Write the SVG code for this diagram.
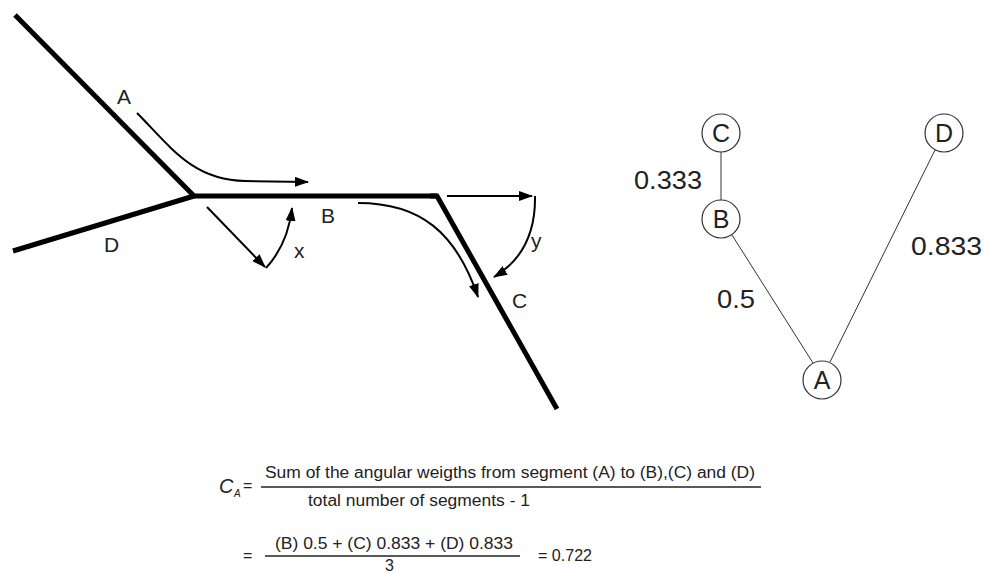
<svg xmlns="http://www.w3.org/2000/svg" width="986" height="574" viewBox="0 0 986 574">
  <style>
    .seg { fill: none; stroke: #000; stroke-width: 5; stroke-linecap: butt; stroke-linejoin: miter; }
    .arr { fill: none; stroke: #000; stroke-width: 2; }
    .edge { fill: none; stroke: #333; stroke-width: 1; }
    .node { fill: #fff; stroke: #333; stroke-width: 1.2; }
    .lbl { font-family: "Liberation Sans", Arial, sans-serif; font-size: 21px; fill: #222; }
    .nlbl { font-family: "Liberation Sans", Arial, sans-serif; font-size: 25px; fill: #222; text-anchor: middle; }
    .wt { font-family: "Liberation Sans", Arial, sans-serif; font-size: 26px; fill: #222; }
    .f { font-family: "Liberation Sans", Arial, sans-serif; font-size: 16px; fill: #222; }
    .fl { stroke: #222; stroke-width: 1.5; }
  </style>
  <defs>
    <marker id="ah" markerUnits="userSpaceOnUse" markerWidth="14" markerHeight="10" refX="13" refY="5" orient="auto">
      <path d="M0,0 L14,5 L0,10 z" fill="#000"/>
    </marker>
  </defs>
  <rect width="986" height="574" fill="#fff"/>

  <!-- street segments -->
  <g id="segA">
    <line class="seg" x1="15" y1="15" x2="194" y2="196"/>
    <text class="lbl" x="117" y="104">A</text>
  </g>
  <g id="segD">
    <line class="seg" x1="13" y1="251" x2="194" y2="196"/>
    <text class="lbl" x="104" y="252">D</text>
  </g>
  <g id="segB">
    <line class="seg" x1="192" y1="196" x2="437" y2="196"/>
    <text class="lbl" x="321" y="223">B</text>
  </g>
  <g id="segC">
    <polyline class="seg" points="430,196 437,196 557,409"/>
    <text class="lbl" x="512" y="308">C</text>
  </g>
  <g id="angleX">
    <text class="lbl" x="294" y="258">x</text>
  </g>
  <g id="angleY">
    <text class="lbl" x="531" y="248">y</text>
  </g>

  <!-- right graph nodes -->
  <g id="nodeC">
    <circle class="node" cx="721" cy="133" r="19"/>
    <text class="nlbl" x="721" y="142">C</text>
  </g>
  <g id="nodeD">
    <circle class="node" cx="944" cy="133" r="19"/>
    <text class="nlbl" x="944" y="142">D</text>
  </g>
  <g id="nodeB">
    <circle class="node" cx="721" cy="219" r="19"/>
    <text class="nlbl" x="721" y="228">B</text>
  </g>
  <g id="nodeA">
    <circle class="node" cx="822" cy="380" r="19"/>
    <text class="nlbl" x="822" y="389">A</text>
  </g>

  <g id="connectors">
    <!-- left figure arrows -->
    <path class="arr" d="M137,113 C170,146 192,180 245,181 L308,182" marker-end="url(#ah)"/>
    <path class="arr" d="M207,207 L265,267" marker-end="url(#ah)"/>
    <path class="arr" d="M266,268 Q288,244 292,208" marker-end="url(#ah)"/>
    <path class="arr" d="M358,203 C420,203 456,232 478,297" marker-end="url(#ah)"/>
    <path class="arr" d="M447,196 L532,196" marker-end="url(#ah)"/>
    <path class="arr" d="M535,196 Q536,252 494,277" marker-end="url(#ah)"/>
    <!-- graph edges -->
    <line class="edge" x1="721" y1="152" x2="721" y2="200"/>
    <line class="edge" x1="732" y1="235" x2="813" y2="363"/>
    <line class="edge" x1="935" y1="150" x2="830" y2="362"/>
  </g>

  <g id="weights">
    <text class="wt" x="634" y="189" textLength="68" lengthAdjust="spacingAndGlyphs">0.333</text>
    <text class="wt" x="717" y="308" textLength="38" lengthAdjust="spacingAndGlyphs">0.5</text>
    <text class="wt" x="911" y="255" textLength="71" lengthAdjust="spacingAndGlyphs">0.833</text>
  </g>

  <g id="formula">
    <text class="f" x="219" y="493" style="font-style:italic;font-size:20px">C</text>
    <text class="f" x="234" y="497" style="font-style:italic;font-size:10px">A</text>
    <text class="f" x="243" y="491">=</text>
    <text class="f" x="265" y="478" textLength="490" lengthAdjust="spacingAndGlyphs">Sum of the angular weigths from segment (A) to (B),(C) and (D)</text>
    <line class="fl" x1="261" y1="487" x2="761" y2="487"/>
    <text class="f" x="308" y="506" textLength="222" lengthAdjust="spacingAndGlyphs">total number of segments - 1</text>

    <text class="f" x="243" y="561">=</text>
    <text class="f" x="275" y="549" textLength="238" lengthAdjust="spacingAndGlyphs">(B) 0.5 + (C) 0.833 + (D) 0.833</text>
    <line class="fl" x1="265" y1="556" x2="520" y2="556"/>
    <text class="f" x="385" y="571">3</text>
    <text class="f" x="538" y="561" textLength="54" lengthAdjust="spacingAndGlyphs">= 0.722</text>
  </g>
</svg>
